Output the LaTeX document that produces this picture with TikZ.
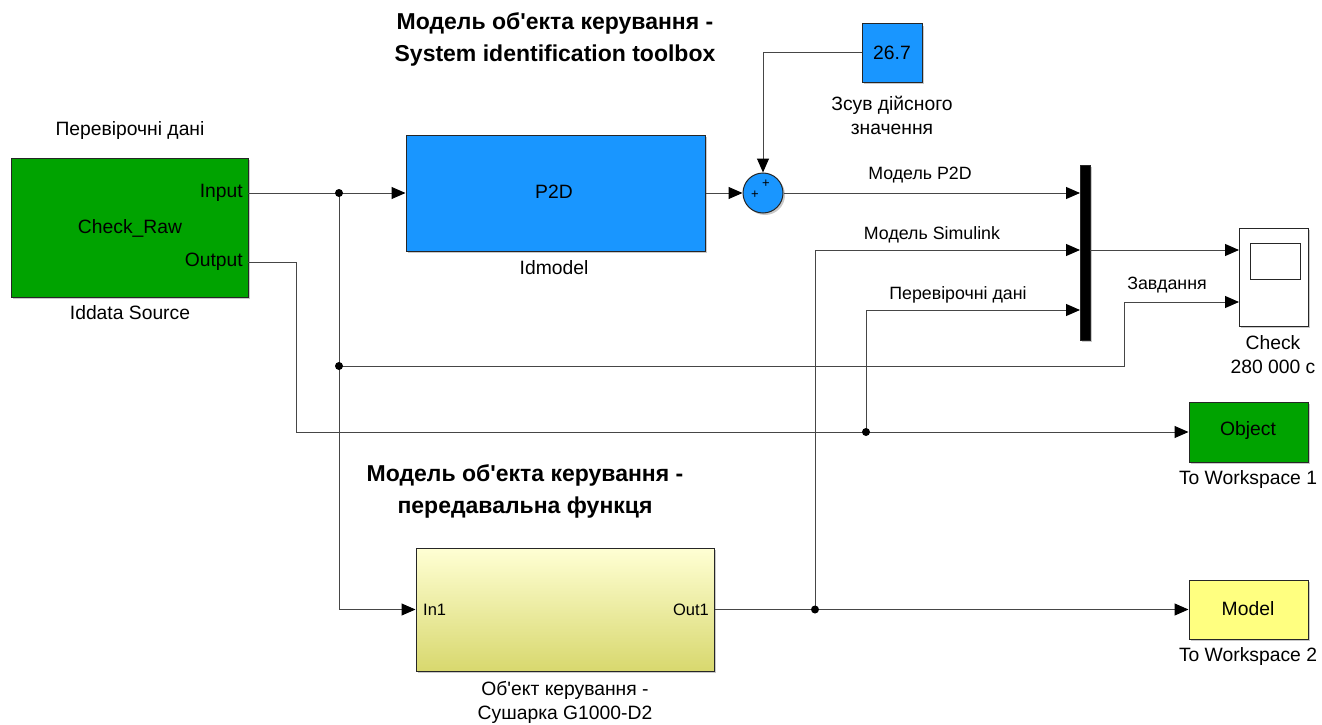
\documentclass[tikz,border=0pt]{standalone}
\usepackage{fontspec}
\setmainfont{Liberation Sans}
\usetikzlibrary{arrows.meta,shadows}
\definecolor{sgreen}{RGB}{0,163,0}
\definecolor{sblue}{RGB}{25,150,255}
\definecolor{syellow}{RGB}{255,255,128}
\definecolor{subtop}{RGB}{255,255,212}
\definecolor{subbot}{RGB}{216,216,110}
\definecolor{ln}{RGB}{70,70,70}
\tikzset{
 blk/.style={draw=black!85, line width=1pt, inner sep=0pt,
   drop shadow={shadow xshift=2pt,shadow yshift=-2pt,opacity=0.35,fill=black!60}},
 wire/.style={draw=ln, line width=1pt},
 arr/.style={wire, -{Triangle[length=14pt,width=12pt,black]}},
 jdot/.style={circle, fill=black, inner sep=0pt, minimum size=8pt},
 lbl/.style={font=\fontsize{19.3}{24}\selectfont, align=center, inner sep=0pt},
 wlbl/.style={font=\fontsize{17.8}{19}\selectfont, inner sep=0pt},
 intxt/.style={font=\fontsize{19.3}{21}\selectfont, inner sep=0pt},
 port/.style={font=\fontsize{16.5}{18}\selectfont, inner sep=0pt},
 ttl/.style={font=\fontsize{23}{32}\selectfont\bfseries, align=center, inner sep=0pt},
}
\begin{document}
\begin{tikzpicture}[x=1pt,y=-1pt]
\useasboundingbox (0,0) rectangle (1322,725);
\fill[white] (0,0) rectangle (1322,725);

% titles
\node[ttl] (t1) at (555,39) {Модель об\textquotesingle екта керування -\\System identification toolbox};
\node[ttl] (t2) at (525,491) {Модель об\textquotesingle екта керування -\\передавальна функця};

% blocks
\node[blk, fill=sgreen, minimum width=237pt, minimum height=139pt] (src) at (129.5,227.5) {};
\node[blk, fill=sblue, minimum width=299pt, minimum height=116pt] (p2d) at (555.5,193) {};
\node[blk, fill=sblue, circle, minimum size=40pt] (sum) at (763,193) {};
\node[blk, fill=sblue, minimum width=60pt, minimum height=58pt] (const) at (892,53) {};
\node[blk, fill=black, minimum width=10pt, minimum height=175pt] (mux) at (1085,252.5) {};
\node[blk, fill=white, minimum width=69pt, minimum height=98pt] (scope) at (1273.5,277) {};
\node[draw=black!85, line width=1pt, fill=white, inner sep=0pt, minimum width=50pt, minimum height=36pt] (scr) at (1275,261) {};
\node[blk, fill=sgreen, minimum width=119pt, minimum height=60pt] (obj) at (1248.5,432) {};
\node[blk, fill=syellow, minimum width=119pt, minimum height=59pt] (model) at (1248.5,609.5) {};
\node[blk, top color=subtop, bottom color=subbot, minimum width=298pt, minimum height=123pt] (sub) at (565,609.5) {};

% texts inside blocks
\node[intxt, anchor=east] (tin) at (243,193) {Input};
\node[intxt, anchor=east] (tout) at (243,262) {Output};
\node[intxt] (tcr) at (130,228) {Check\_Raw};
\node[intxt] (tp2d) at (554,192) {P2D};
\node[intxt] (tc) at (892,53) {26.7};
\node[intxt] (tobj) at (1248,431) {Object};
\node[intxt] (tmod) at (1248,609) {Model};
\node[port, anchor=west] (tin1) at (423,610) {In1};
\node[port, anchor=east] (tout1) at (709,610) {Out1};
\node[font=\fontsize{13}{13}\selectfont, inner sep=0pt] (pl1) at (766,184) {+};
\node[font=\fontsize{13}{13}\selectfont, inner sep=0pt] (pl2) at (755,195) {+};

% block labels
\node[lbl] (lsrc0) at (130,131) {Перевірочні дані};
\node[lbl] (lsrc) at (130,313) {Iddata Source};
\node[lbl] (lp2d) at (554,268) {Idmodel};
\node[lbl] (lconst) at (892,115) {Зсув дійсного\\значення};
\node[lbl] (lscope) at (1273,355) {Check\\280 000 с};
\node[lbl] (lobj) at (1248,480) {To Workspace 1};
\node[lbl] (lmod) at (1248,657) {To Workspace 2};
\node[lbl] (lsub) at (565,702) {Об\textquotesingle ект керування -\\Сушарка G1000-D2};

% coordinates
\coordinate (pin) at (248,193);
\coordinate (pout) at (248,262);
\coordinate (j1) at (339,193);
\coordinate (j2) at (339,366);
\coordinate (j3) at (866,432);
\coordinate (j4) at (815,609.5);
\coordinate (oc) at (296,432);
\coordinate (zb) at (1124,302);
\coordinate (sc1) at (1239,250);
\coordinate (sc2) at (1239,302);
\coordinate (m1) at (1080,193);
\coordinate (m2) at (1080,250);
\coordinate (m3) at (1080,310);
\coordinate (mo) at (1090,250);

% wires
\draw[arr] (pin) -- (p2d.west);
\draw[arr] (j1) |- (sub.west);
\draw[arr] (j2) -| (zb) -- (sc2);
\draw[arr] (pout) -| (oc) -- (obj.west);
\draw[arr] (j3) |- (m3);
\draw[arr] (sub.east) -- (model.west);
\draw[arr] (j4) |- (m2);
\draw[arr] (p2d.east) -- (sum.west);
\draw[arr] (sum.east) -- (m1);
\draw[arr] (const.west) -| (sum.north);
\draw[arr] (mo) -- (sc1);

\node[jdot] (d1) at (j1) {};
\node[jdot] (d2) at (j2) {};
\node[jdot] (d3) at (j3) {};
\node[jdot] (d4) at (j4) {};

% wire labels
\node[wlbl] (w1) at (920,175) {Модель P2D};
\node[wlbl] (w2) at (932,235) {Модель Simulink};
\node[wlbl] (w3) at (958,295) {Перевірочні дані};
\node[wlbl] (w4) at (1167,285) {Завдання};
\end{tikzpicture}
\end{document}
